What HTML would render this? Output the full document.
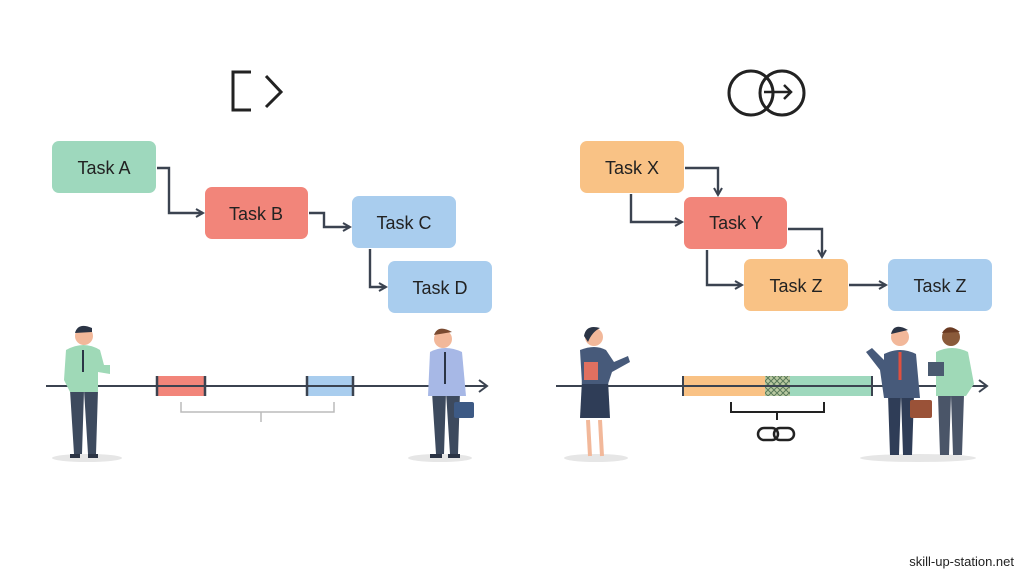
<!DOCTYPE html>
<html><head><meta charset="utf-8"><style>
body{margin:0;background:#fff;}
svg{display:block}
text{font-family:"Liberation Sans",sans-serif;}
</style></head><body>
<svg width="1024" height="572" viewBox="0 0 1024 572" xmlns="http://www.w3.org/2000/svg">
<defs>
<marker id="ah" markerWidth="10" markerHeight="10" refX="8" refY="5" orient="auto" markerUnits="userSpaceOnUse">
<path d="M1,1 L8,5 L1,9" fill="none" stroke="#3b4350" stroke-width="2"/>
</marker>
<pattern id="hatch" width="6" height="6" patternUnits="userSpaceOnUse">
<path d="M0,0 L6,6 M6,0 L0,6" stroke="#5a7a5a" stroke-width="1"/>
</pattern>
</defs>
<rect width="1024" height="572" fill="#fff"/>
<path d="M251,72 L233,72 L233,110 L251,110" fill="none" stroke="#222" stroke-width="3"/>
<path d="M266,76 L281,92 L266,107" fill="none" stroke="#222" stroke-width="3"/>
<circle cx="751" cy="93" r="22" fill="none" stroke="#222" stroke-width="3"/>
<circle cx="782" cy="93" r="22" fill="none" stroke="#222" stroke-width="3"/>
<path d="M764,92 L791,92 M784,85 L791,92 L784,99" fill="none" stroke="#222" stroke-width="2.5"/>

<g font-size="18" fill="#222" text-anchor="middle">
<rect x="52" y="141" width="104" height="52" rx="7" fill="#9ed8bd"/><text x="104" y="174">Task A</text>
<rect x="205" y="187" width="103" height="52" rx="7" fill="#f2857a"/><text x="256" y="220">Task B</text>
<rect x="352" y="196" width="104" height="52" rx="7" fill="#a9cdee"/><text x="404" y="229">Task C</text>
<rect x="388" y="261" width="104" height="52" rx="7" fill="#a9cdee"/><text x="440" y="294">Task D</text>
<rect x="580" y="141" width="104" height="52" rx="7" fill="#f9c285"/><text x="632" y="174">Task X</text>
<rect x="684" y="197" width="103" height="52" rx="7" fill="#f2857a"/><text x="736" y="229">Task Y</text>
<rect x="744" y="259" width="104" height="52" rx="7" fill="#f9c285"/><text x="796" y="292">Task Z</text>
<rect x="888" y="259" width="104" height="52" rx="7" fill="#a9cdee"/><text x="940" y="292">Task Z</text>
</g>
<g fill="none" stroke="#3b4350" stroke-width="2.4" marker-end="url(#ah)">
<path d="M157,168 L169,168 L169,213 L203,213"/>
<path d="M309,213 L324,213 L324,227 L350,227"/>
<path d="M370,249 L370,287 L386,287"/>
<path d="M685,168 L718,168 L718,195"/>
<path d="M631,194 L631,222 L682,222"/>
<path d="M788,229 L822,229 L822,257"/>
<path d="M707,250 L707,285 L742,285"/>
<path d="M849,285 L886,285"/>
</g>

<rect x="157" y="376" width="48" height="20" rx="2" fill="#f2857a"/>
<rect x="307" y="376" width="46" height="20" rx="2" fill="#a9cdee"/>
<path d="M46,386 L486,386 M479,380 L487,386 L479,392" fill="none" stroke="#3b4350" stroke-width="2"/>
<path d="M157,376V396 M205,376V396 M307,376V396 M353,376V396" stroke="#3b4350" stroke-width="2.5"/>
<path d="M181,402 V412 H334 V402 M261,412 V422" fill="none" stroke="#bbb" stroke-width="1.5"/>

<rect x="683" y="376" width="84" height="20" fill="#f9c285"/>
<rect x="790" y="376" width="82" height="20" fill="#9ed8bd"/>
<rect x="765" y="376" width="25" height="20" fill="#b9c9a0"/>
<rect x="765" y="376" width="25" height="20" fill="url(#hatch)"/>
<path d="M556,386 L986,386 M979,380 L987,386 L979,392" fill="none" stroke="#3b4350" stroke-width="2"/>
<path d="M683,376V396 M872,376V396" stroke="#3b4350" stroke-width="2"/>
<path d="M731,402 V412 H824 V402 M777,412 V420" fill="none" stroke="#222" stroke-width="2"/>
<rect x="758" y="428" width="20" height="12" rx="6" fill="none" stroke="#222" stroke-width="2.5"/>
<rect x="774" y="428" width="20" height="12" rx="6" fill="none" stroke="#222" stroke-width="2.5"/>

<g>
<ellipse cx="87" cy="458" rx="35" ry="4" fill="#e6e6e6"/>
<path d="M70,390 L84,390 L82,454 L74,454 Z M84,390 L98,390 L96,454 L88,454 Z" fill="#3d4a5e"/>
<path d="M70,454 h10 v4 h-10z M88,454 h10 v4 h-10z" fill="#2b3445"/>
<path d="M66,350 Q84,340 100,350 L104,365 L110,365 L110,374 L98,372 L98,392 L70,392 L64,380 Z" fill="#9fd9b7"/>
<circle cx="84" cy="336" r="9" fill="#f2b89a"/>
<path d="M75,333 Q78,322 92,328 L92,332 Z" fill="#2b3445"/>
<path d="M83,350 L83,372" stroke="#2b3445" stroke-width="2"/>

<ellipse cx="440" cy="458" rx="32" ry="4" fill="#e6e6e6"/>
<path d="M432,392 L446,392 L444,454 L436,454 Z M446,392 L460,392 L458,454 L450,454 Z" fill="#3d4a5e"/>
<path d="M430,454 h12 v4 h-12z M448,454 h12 v4 h-12z" fill="#2b3445"/>
<path d="M430,352 Q445,344 462,352 L466,396 L428,396 Z" fill="#a7b8e6"/>
<circle cx="443" cy="339" r="9" fill="#f2b89a"/>
<path d="M434,335 Q438,324 452,332 Z" fill="#7a4a30"/>
<path d="M445,352 L445,384" stroke="#2b3445" stroke-width="2"/>
<rect x="454" y="402" width="20" height="16" rx="2" fill="#3d5a85"/>

<ellipse cx="596" cy="458" rx="32" ry="4" fill="#e6e6e6"/>
<path d="M588,420 L590,456 M600,420 L602,456" stroke="#f2b89a" stroke-width="4"/>
<path d="M582,380 L608,380 L610,418 L580,418 Z" fill="#2f3d57"/>
<path d="M580,350 Q595,344 606,350 L614,362 L628,356 L630,362 L612,372 L608,384 L582,384 Z" fill="#475a7a"/>
<rect x="584" y="362" width="14" height="18" fill="#e07060"/>
<circle cx="594" cy="337" r="9" fill="#f2b89a"/>
<path d="M584,336 Q586,324 600,328 Q592,332 588,342 Z" fill="#2b3445"/>

<ellipse cx="918" cy="458" rx="58" ry="4" fill="#e6e6e6"/>
<path d="M888,395 L901,395 L899,455 L890,455 Z M901,395 L914,395 L912,455 L903,455 Z" fill="#2f3d57"/>
<path d="M884,354 Q900,346 916,354 L920,398 L884,398 L880,370 L866,352 L872,348 L884,360 Z" fill="#475a7a"/>
<path d="M900,352 L900,380" stroke="#e0503f" stroke-width="3"/>
<circle cx="900" cy="337" r="9" fill="#f2b89a"/>
<path d="M891,334 Q894,322 908,330 Z" fill="#2b3445"/>
<rect x="910" y="400" width="22" height="18" rx="2" fill="#9a5238"/>
<path d="M938,395 L951,395 L949,455 L940,455 Z M951,395 L964,395 L962,455 L953,455 Z" fill="#4a5568"/>
<path d="M936,352 Q952,344 968,352 L974,384 L966,396 L936,396 Z" fill="#9fd9b7"/>
<rect x="928" y="362" width="16" height="14" fill="#4a5a70"/>
<circle cx="951" cy="337" r="9" fill="#8a5a3a"/>
<path d="M942,333 Q948,322 960,332 Z" fill="#6a3a22"/>
</g>

<text x="1014" y="566" font-size="13" fill="#222" text-anchor="end">skill-up-station.net</text>
</svg>
</body></html>
